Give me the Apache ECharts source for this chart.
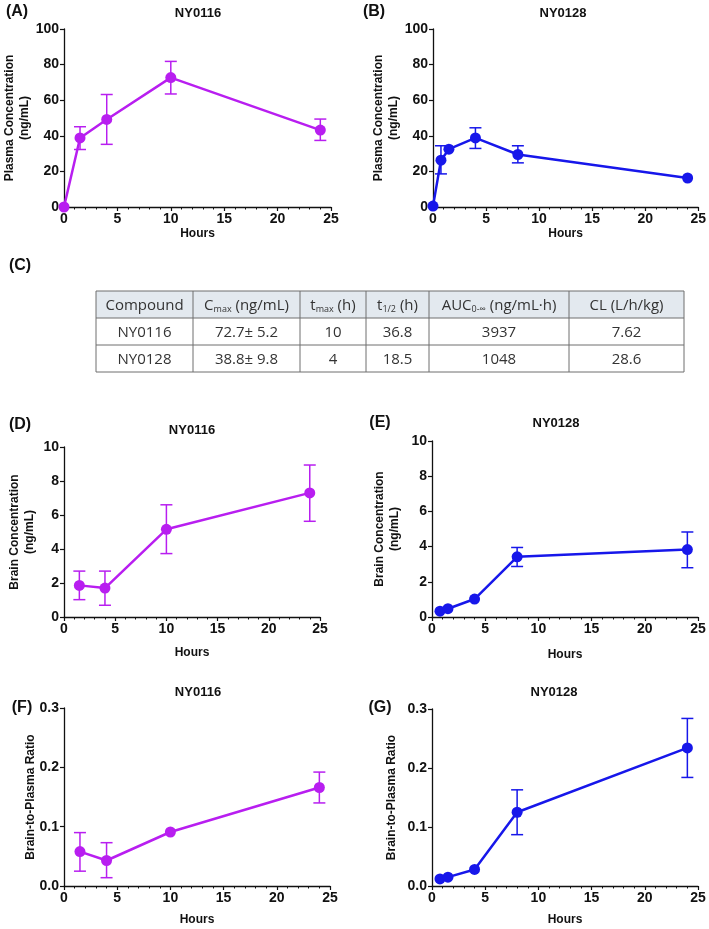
<!DOCTYPE html>
<html>
<head>
<meta charset="utf-8">
<script src="https://cdn.jsdelivr.net/npm/echarts@6/dist/echarts.min.js"></script>
<style>
  html, body { margin: 0; padding: 0; background: #fff; }
  #main { width: 709px; height: 929px; }
</style>
</head>
<body>
<div id="main"></div>
<script>
// ---- data ----
// (A) plasma NY0116
var plasmaHours116 = [0, 1.5, 4, 10, 24];
var plasmaMean116  = [0, 38.8, 49.2, 72.7, 43.2];
var plasmaLow116   = [null, 32.3, 35.2, 63.5, 37.4];
var plasmaHigh116  = [null, 45.1, 63.2, 81.8, 49.4];
// (B) plasma NY0128
var plasmaHours128 = [0, 0.75, 1.5, 4, 8, 24];
var plasmaMean128  = [0.5, 26.3, 32.5, 38.8, 29.5, 16.3];
var plasmaLow128   = [null, 18.6, null, 32.9, 24.8, null];
var plasmaHigh128  = [null, 34.4, null, 44.5, 34.4, null];
// (D) brain NY0116
var brainHours116 = [1.5, 4, 10, 24];
var brainMean116  = [1.86, 1.7, 5.16, 7.3];
var brainLow116   = [1.02, 0.69, 3.73, 5.63];
var brainHigh116  = [2.7, 2.7, 6.6, 8.94];
// (E) brain NY0128
var brainHours128 = [0.75, 1.5, 4, 8, 24];
var brainMean128  = [0.33, 0.47, 1.02, 3.42, 3.83];
var brainLow128   = [null, null, null, 2.87, 2.8];
var brainHigh128  = [null, null, null, 3.95, 4.83];
// (F) ratio NY0116
var ratioHours116 = [1.5, 4, 10, 24];
var ratioMean116  = [0.058, 0.043, 0.091, 0.166];
var ratioLow116   = [0.025, 0.014, null, 0.140];
var ratioHigh116  = [0.090, 0.073, null, 0.192];
// (G) ratio NY0128
var ratioHours128 = [0.75, 1.5, 4, 8, 24];
var ratioMean128  = [0.012, 0.015, 0.028, 0.125, 0.234];
var ratioLow128   = [null, null, null, 0.087, 0.184];
var ratioHigh128  = [null, null, null, 0.163, 0.284];

// (C) table
var tableHeader = ['Compound', 'C{s|max} (ng/mL)', 't{s|max} (h)', 't{s|1/2} (h)', 'AUC{s|0-\u221e} (ng/mL\u00b7h)', 'CL (L/h/kg)'];
var tableRows = [
  ['NY0116', '72.7\u00b1 5.2', '10', '36.8', '3937', '7.62'],
  ['NY0128', '38.8\u00b1 9.8', '4', '18.5', '1048', '28.6']
];

var PURPLE = '#b81ef0';
var BLUE = '#1717ea';
var FONT = 'Liberation Sans';

// panel layout
var panels = [
  {letter: '(A)', title: 'NY0116', color: PURPLE, hours: plasmaHours116, mean: plasmaMean116, low: plasmaLow116, high: plasmaHigh116,
   ymax: 100, yint: 20, yname: 'Plasma Concentration\n(ng/mL)', dec: 0,
   grid: {left: 64, top: 29, width: 267, height: 178}, letterPos: [17, 12], titlePos: [198, 13], yGap: 32, xGap: 21},
  {letter: '(B)', title: 'NY0128', color: BLUE, hours: plasmaHours128, mean: plasmaMean128, low: plasmaLow128, high: plasmaHigh128,
   ymax: 100, yint: 20, yname: 'Plasma Concentration\n(ng/mL)', dec: 0,
   grid: {left: 433, top: 29, width: 268, height: 178}, letterPos: [374, 12], titlePos: [563, 13], yGap: 32, xGap: 21},
  {letter: '(D)', title: 'NY0116', color: PURPLE, hours: brainHours116, mean: brainMean116, low: brainLow116, high: brainHigh116,
   ymax: 10, yint: 2, yname: 'Brain Concentration\n(ng/mL)', dec: 0,
   grid: {left: 64, top: 447, width: 256, height: 170}, letterPos: [20, 425], titlePos: [192, 430], yGap: 27, xGap: 30},
  {letter: '(E)', title: 'NY0128', color: BLUE, hours: brainHours128, mean: brainMean128, low: brainLow128, high: brainHigh128,
   ymax: 10, yint: 2, yname: 'Brain Concentration\n(ng/mL)', dec: 0,
   grid: {left: 432, top: 441, width: 266, height: 176}, letterPos: [380, 423], titlePos: [556, 423], yGap: 30, xGap: 32},
  {letter: '(F)', title: 'NY0116', color: PURPLE, hours: ratioHours116, mean: ratioMean116, low: ratioLow116, high: ratioHigh116,
   ymax: 0.3, yint: 0.1, yname: 'Brain-to-Plasma Ratio', dec: 1,
   grid: {left: 64, top: 708, width: 266, height: 178}, letterPos: [22, 708], titlePos: [198, 692], yGap: 26, xGap: 28, noMove: true},
  {letter: '(G)', title: 'NY0128', color: BLUE, hours: ratioHours128, mean: ratioMean128, low: ratioLow128, high: ratioHigh128,
   ymax: 0.3, yint: 0.1, yname: 'Brain-to-Plasma Ratio', dec: 1,
   grid: {left: 432, top: 709, width: 266, height: 177}, letterPos: [380, 708], titlePos: [554, 692], yGap: 33, xGap: 28}
];

var chart = echarts.init(document.getElementById('main'));

var grids = [], xAxes = [], yAxes = [], series = [], graphics = [];

panels.forEach(function (p, i) {
  grids.push(p.grid);
  xAxes.push({
    type: 'value', gridIndex: i, min: 0, max: 25, interval: 5,
    name: 'Hours', nameLocation: 'middle', nameGap: p.xGap,
    nameTextStyle: {fontFamily: FONT, fontWeight: 'bold', fontSize: 12, color: '#111'},
    axisLine: {onZero: false, lineStyle: {color: '#111', width: 1.3}},
    axisTick: {show: true, length: 4, lineStyle: {color: '#111', width: 1.2}},
    minorTick: {show: true, splitNumber: 5, length: 2.5, lineStyle: {color: '#111', width: 1}},
    axisLabel: {fontFamily: FONT, fontWeight: 'bold', fontSize: 14, color: '#111', margin: 5},
    splitLine: {show: false}
  });
  var yAxis = {
    type: 'value', gridIndex: i, min: 0, max: p.ymax, interval: p.yint,
    name: p.yname, nameLocation: 'middle', nameGap: p.yGap, nameRotate: 90,
    nameTextStyle: {fontFamily: FONT, fontWeight: 'bold', fontSize: 12, color: '#111', lineHeight: 15},
    axisLine: {show: true, lineStyle: {color: '#111', width: 1.3}},
    axisTick: {show: true, length: 4, lineStyle: {color: '#111', width: 1.2}},
    axisLabel: {fontFamily: FONT, fontWeight: 'bold', fontSize: 14, color: '#111', margin: 5,
      formatter: function (v) { return v.toFixed(p.dec); }},
    splitLine: {show: false}
  };
  if (p.noMove) yAxis.nameMoveOverlap = false;
  yAxes.push(yAxis);

  var errData = [];
  p.hours.forEach(function (h, k) {
    if (p.low[k] != null) errData.push([h, p.low[k], p.high[k]]);
  });
  series.push({
    type: 'custom', xAxisIndex: i, yAxisIndex: i, z: 1, silent: true,
    encode: {x: 0, y: [1, 2]},
    data: errData,
    renderItem: function (params, api) {
      var top = api.coord([api.value(0), api.value(2)]);
      var bot = api.coord([api.value(0), api.value(1)]);
      var hw = 6;
      var st = {stroke: p.color, lineWidth: 1.5};
      return {
        type: 'group',
        children: [
          {type: 'line', shape: {x1: top[0], y1: top[1], x2: bot[0], y2: bot[1]}, style: st},
          {type: 'line', shape: {x1: top[0] - hw, y1: top[1], x2: top[0] + hw, y2: top[1]}, style: st},
          {type: 'line', shape: {x1: bot[0] - hw, y1: bot[1], x2: bot[0] + hw, y2: bot[1]}, style: st}
        ]
      };
    }
  });
  series.push({
    type: 'line', xAxisIndex: i, yAxisIndex: i, z: 3,
    data: p.hours.map(function (h, k) { return [h, p.mean[k]]; }),
    symbol: 'circle', symbolSize: 11, showSymbol: true,
    lineStyle: {color: p.color, width: 2.5},
    itemStyle: {color: p.color}
  });

  graphics.push({type: 'text', x: p.letterPos[0], y: p.letterPos[1],
    style: {text: p.letter, textAlign: 'center', textVerticalAlign: 'middle',
      font: 'bold 16px "Liberation Sans"', fill: '#111'}});
  graphics.push({type: 'text', x: p.titlePos[0], y: p.titlePos[1],
    style: {text: p.title, textAlign: 'center', textVerticalAlign: 'middle',
      font: 'bold 13px "Liberation Sans"', fill: '#111'}});
});

// ---- table (C) ----
var colEdges = [96, 193, 300, 366, 429, 569, 684];
var rowEdges = [291, 318, 345, 372];
graphics.push({type: 'text', x: 20, y: 266,
  style: {text: '(C)', textAlign: 'center', textVerticalAlign: 'middle',
    font: 'bold 16px "Liberation Sans"', fill: '#111'}});
graphics.push({type: 'rect', shape: {x: colEdges[0], y: rowEdges[0], width: colEdges[6] - colEdges[0], height: rowEdges[1] - rowEdges[0]},
  style: {fill: '#e3e9ef'}});
var cells = [tableHeader].concat(tableRows);
cells.forEach(function (row, r) {
  row.forEach(function (txt, c) {
    graphics.push({type: 'text',
      x: (colEdges[c] + colEdges[c + 1]) / 2, y: (rowEdges[r] + rowEdges[r + 1]) / 2 + 1,
      style: {text: txt, textAlign: 'center', textVerticalAlign: 'middle',
        fontFamily: 'Open Sans', fontSize: 15, fill: '#333',
        rich: {s: {fontFamily: 'Open Sans', fontSize: 9, fill: '#333', padding: [8, 0, 0, 0]}}}});
  });
});
colEdges.forEach(function (x) {
  graphics.push({type: 'line', shape: {x1: x, y1: rowEdges[0], x2: x, y2: rowEdges[3]},
    style: {stroke: '#6f6f6f', lineWidth: 1}});
});
rowEdges.forEach(function (y) {
  graphics.push({type: 'line', shape: {x1: colEdges[0], y1: y, x2: colEdges[6], y2: y},
    style: {stroke: '#6f6f6f', lineWidth: 1}});
});

chart.setOption({
  animation: false,
  backgroundColor: '#fff',
  grid: grids,
  xAxis: xAxes,
  yAxis: yAxes,
  series: series,
  graphic: graphics
});
</script>
</body>
</html>
